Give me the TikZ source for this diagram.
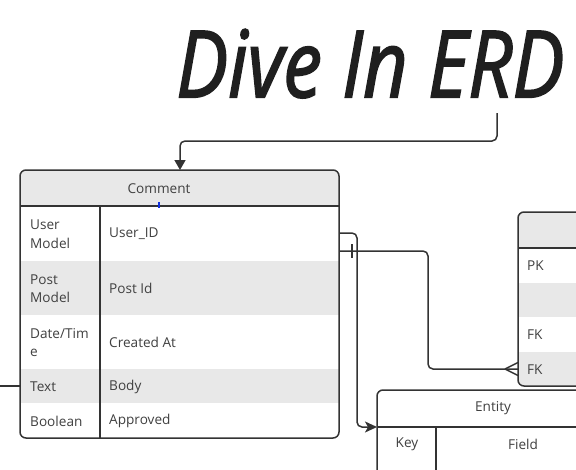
\documentclass[tikz,border=0pt]{standalone}
\usepackage{fontspec}
\usepackage{graphicx}
\setmainfont{Open Sans}
\newfontfamily\titlefont{Open Sans}[FakeBold=2, ItalicFeatures={FakeBold=2}]
\usetikzlibrary{arrows.meta}
\definecolor{ln}{HTML}{333333}
\definecolor{hd}{HTML}{E8E8E8}
\definecolor{tx}{HTML}{404040}
\definecolor{tick}{HTML}{1030E0}
\begin{document}
\begin{tikzpicture}[x=1pt,y=-1pt,
  lbl/.style={font=\fontsize{13.6}{18.5}\selectfont, text=tx, inner sep=0pt, anchor=west, align=left},
  ctr/.style={font=\fontsize{13.6}{18.5}\selectfont, text=tx, inner sep=0pt},
  edge/.style={draw=ln, line width=1.5pt},
  conn/.style={draw=ln, line width=1.5pt, rounded corners=5pt}]
\useasboundingbox (0,0) rectangle (576,469);
\clip (0,0) rectangle (576,469);

% ---------- title ----------
\node[inner sep=0pt, anchor=north west, text=black!88] (title) at (176,29)
  {\resizebox{388pt}{68pt}{\titlefont\itshape Dive In ERD}};
\coordinate (tfoot) at (497,113);

% ---------- Comment table ----------
\fill[white, rounded corners=6pt] (20,170) rectangle (339,438);
\fill[hd] (20,206) [rounded corners=6pt] -- (20,170) -- (339,170) [sharp corners] -- (339,206) -- cycle;
\fill[hd] (20,261) rectangle (339,315);
\fill[hd] (20,369) rectangle (339,403);
\draw[edge, rounded corners=6pt] (20,170) rectangle (339,438);
\draw[edge] (20,206) -- (339,206);
\draw[edge] (100,206) -- (100,438);
\draw[tick, line width=2pt] (159,202) -- (159,208);
\coordinate (ctop) at (180,170);
\coordinate (cr1) at (339,233);
\coordinate (cr2) at (339,251);
\coordinate (cleft) at (20,386);
\coordinate (lend) at (0,386);

\node[ctr] (chead) at (159,188.5) {Comment};
\node[lbl] (k1) at (30,234) {User\\Model};
\node[lbl] (f1) at (109,233.5) {User\_ID};
\node[lbl] (k2) at (30,288.5) {Post\\Model};
\node[lbl] (f2) at (109,288) {Post Id};
\node[lbl] (k3) at (30,342.5) {Date/Tim\\e};
\node[lbl] (f3) at (109,342) {Created At};
\node[lbl] (k4) at (30,386.5) {Text};
\node[lbl] (f4) at (109,386.5) {Body};
\node[lbl] (k5) at (30,421) {Boolean};
\node[lbl] (f5) at (109,421) {Approved};

% ---------- right table ----------
\fill[white, rounded corners=6pt] (518,212) rectangle (620,386);
\fill[hd] (518,248) [rounded corners=6pt] -- (518,212) -- (620,212) [sharp corners] -- (620,248) -- cycle;
\fill[hd] (518,283) rectangle (620,317);
\fill[hd] (620,352) -- (518,352) [rounded corners=6pt] -- (518,386) [sharp corners] -- (620,386) -- cycle;
\draw[edge, rounded corners=6pt] (518,212) rectangle (620,386);
\draw[edge] (518,248) -- (620,248);
\coordinate (rfk) at (518,369);
\node[lbl] (p1) at (527,266) {PK};
\node[lbl] (p3) at (527,335) {FK};
\node[lbl] (p4) at (527,369.5) {FK};

% ---------- Entity table ----------
\fill[white, rounded corners=6pt] (377,390) rectangle (640,520);
\draw[edge] (377,520) [rounded corners=6pt] -- (377,390) -- (640,390);
\draw[edge] (377,427) -- (640,427);
\draw[edge] (436,427) -- (436,520);
\coordinate (eleft) at (377,427);
\node[ctr] (ehead) at (493,408.5) {Entity};
\node[ctr] (ekey) at (407,444.5) {Key};
\node[ctr] (efield) at (523,444.5) {Field};

% ---------- connectors ----------
\draw[conn, -{Triangle[length=10pt,width=11pt]}] (tfoot) |- (180,141) -- (ctop);
\draw[conn, -{Stealth[length=12pt,width=11pt,inset=3pt]}] (cr1) -| (357,427) -- (eleft);
\draw[conn] (cr2) -| (428,369) -- (rfk);
\draw[edge] (352,244) -- (352,258);
\draw[edge] (505,369) -- (518,362.5);
\draw[edge] (505,369) -- (518,375.5);
\draw[edge] (lend) -- (cleft);
\end{tikzpicture}
\end{document}
